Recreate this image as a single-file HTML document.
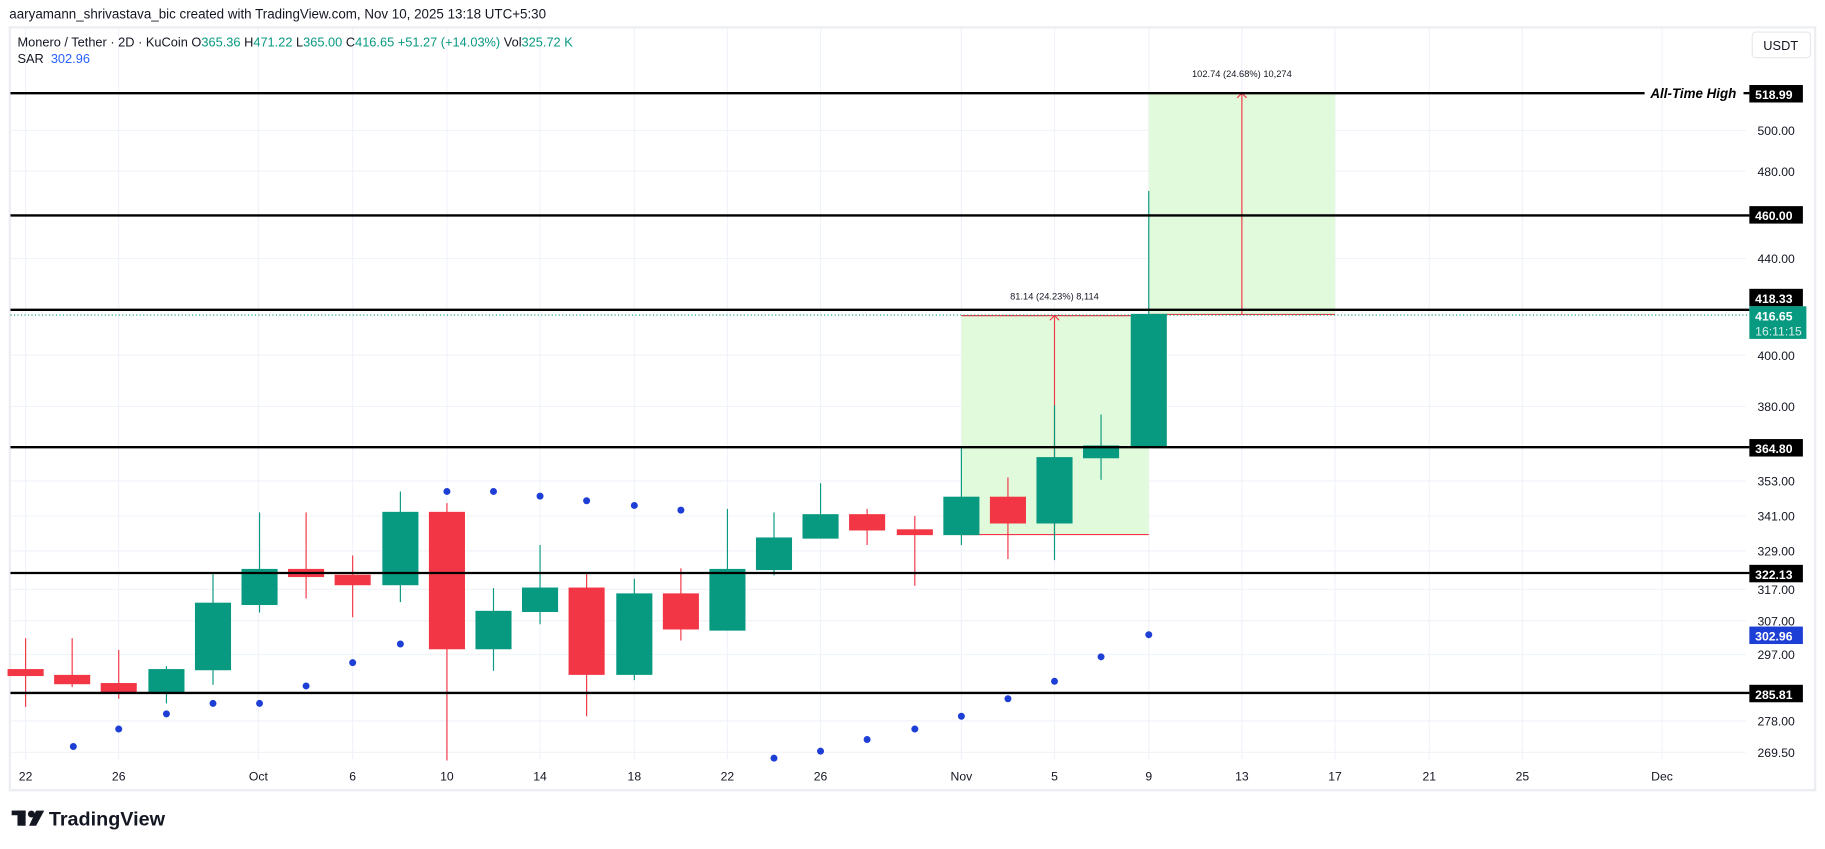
<!DOCTYPE html>
<html><head><meta charset="utf-8"><style>
html,body{margin:0;padding:0;background:#fff;}
svg{display:block;font-family:"Liberation Sans",sans-serif;}
</style></head><body>
<svg width="1825" height="849" viewBox="0 0 1568 729" preserveAspectRatio="none" xmlns="http://www.w3.org/2000/svg">
<rect width="1568" height="729" fill="#fff"/>
<text x="8" y="16" font-size="11.5" fill="#131722">aaryamann_shrivastava_bic created with TradingView.com, Nov 10, 2025 13:18 UTC+5:30</text>
<rect x="8.5" y="23.5" width="1551" height="655" fill="none" stroke="#eceef2" stroke-width="2"/>
<!-- grid -->
<g stroke="#f0f3fa" stroke-width="1">
<line x1="22" y1="24" x2="22" y2="652"/><line x1="102" y1="24" x2="102" y2="652"/><line x1="222" y1="24" x2="222" y2="652"/><line x1="303" y1="24" x2="303" y2="652"/><line x1="384" y1="24" x2="384" y2="652"/><line x1="464" y1="24" x2="464" y2="652"/><line x1="545" y1="24" x2="545" y2="652"/><line x1="625" y1="24" x2="625" y2="652"/><line x1="705" y1="24" x2="705" y2="652"/><line x1="826" y1="24" x2="826" y2="652"/><line x1="906" y1="24" x2="906" y2="652"/><line x1="987" y1="24" x2="987" y2="652"/><line x1="1067" y1="24" x2="1067" y2="652"/><line x1="1147" y1="24" x2="1147" y2="652"/><line x1="1228" y1="24" x2="1228" y2="652"/><line x1="1308" y1="24" x2="1308" y2="652"/><line x1="1428" y1="24" x2="1428" y2="652"/>
<line x1="9" y1="112" x2="1500" y2="112"/><line x1="9" y1="147" x2="1500" y2="147"/><line x1="9" y1="222" x2="1500" y2="222"/><line x1="9" y1="305" x2="1500" y2="305"/><line x1="9" y1="349" x2="1500" y2="349"/><line x1="9" y1="413" x2="1500" y2="413"/><line x1="9" y1="443" x2="1500" y2="443"/><line x1="9" y1="473" x2="1500" y2="473"/><line x1="9" y1="506" x2="1500" y2="506"/><line x1="9" y1="533" x2="1500" y2="533"/><line x1="9" y1="562" x2="1500" y2="562"/><line x1="9" y1="619" x2="1500" y2="619"/><line x1="9" y1="646" x2="1500" y2="646"/>
</g>
<text x="15" y="40" font-size="11" fill="#131722">Monero / Tether · 2D · KuCoin <tspan fill="#131722">O</tspan><tspan fill="#089981">365.36</tspan> H<tspan fill="#089981">471.22</tspan> L<tspan fill="#089981">365.00</tspan> C<tspan fill="#089981">416.65</tspan> <tspan fill="#089981">+51.27 (+14.03%)</tspan> Vol<tspan fill="#089981">325.72 K</tspan></text>
<text x="15" y="54" font-size="11" fill="#131722">SAR <tspan fill="#2962ff" dx="3">302.96</tspan></text>
<!-- USDT -->
<rect x="1505.5" y="27.5" width="50" height="22" rx="3" fill="#fff" stroke="#e6e8ec"/>
<text x="1515" y="43" font-size="11" fill="#131722">USDT</text>
<!-- range boxes -->
<rect x="826" y="271" width="161" height="188" fill="#e1fadb"/>
<rect x="987" y="80" width="160" height="190" fill="#e1fadb"/>
<g stroke="#f23645" stroke-width="1">
<line x1="826" y1="459" x2="987" y2="459"/><line x1="826" y1="271" x2="987" y2="271"/><line x1="906" y1="459" x2="906" y2="271"/>
<polyline points="902,275 906,271 910,275" fill="none"/>
<line x1="987" y1="270" x2="1147" y2="270"/><line x1="987" y1="80" x2="1147" y2="80"/><line x1="1067" y1="270" x2="1067" y2="80"/>
<polyline points="1063,84 1067,80 1071,84" fill="none"/>
</g>
<text x="906" y="257" font-size="8" fill="#131722" text-anchor="middle">81.14 (24.23%) 8,114</text>
<text x="1067" y="66" font-size="8" fill="#131722" text-anchor="middle">102.74 (24.68%) 10,274</text>
<!-- SAR dots -->
<g fill="#1e3fd6">
<circle cx="63" cy="641" r="3"/><circle cx="102" cy="626" r="3"/><circle cx="143" cy="613" r="3"/><circle cx="183" cy="604" r="3"/><circle cx="223" cy="604" r="3"/><circle cx="263" cy="589" r="3"/><circle cx="303" cy="569" r="3"/><circle cx="344" cy="553" r="3"/><circle cx="384" cy="422" r="3"/><circle cx="424" cy="422" r="3"/><circle cx="464" cy="426" r="3"/><circle cx="504" cy="430" r="3"/><circle cx="545" cy="434" r="3"/><circle cx="585" cy="438" r="3"/><circle cx="665" cy="651" r="3"/><circle cx="705" cy="645" r="3"/><circle cx="745" cy="635" r="3"/><circle cx="786" cy="626" r="3"/><circle cx="826" cy="615" r="3"/><circle cx="866" cy="600" r="3"/><circle cx="906" cy="585" r="3"/><circle cx="946" cy="564" r="3"/><circle cx="987" cy="545" r="3"/>
</g>
<!-- candles -->
<g stroke-width="1">
<g stroke="#f23645" fill="#f23645">
<line x1="22" y1="548" x2="22" y2="607"/><rect x="7" y="575" width="30" height="5"/>
<line x1="62" y1="548" x2="62" y2="590"/><rect x="47" y="580" width="30" height="7"/>
<line x1="102" y1="558" x2="102" y2="600"/><rect x="87" y="587" width="30" height="8"/>
<line x1="263" y1="440" x2="263" y2="514"/><rect x="248" y="489" width="30" height="6"/>
<line x1="303" y1="477" x2="303" y2="530"/><rect x="288" y="494" width="30" height="8"/>
<line x1="384" y1="432" x2="384" y2="653"/><rect x="369" y="440" width="30" height="117"/>
<line x1="504" y1="492" x2="504" y2="615"/><rect x="489" y="505" width="30" height="74"/>
<line x1="585" y1="488" x2="585" y2="550"/><rect x="570" y="510" width="30" height="30"/>
<line x1="745" y1="437" x2="745" y2="468"/><rect x="730" y="442" width="30" height="13"/>
<line x1="786" y1="443" x2="786" y2="503"/><rect x="771" y="455" width="30" height="4"/>
<line x1="866" y1="410" x2="866" y2="480"/><rect x="851" y="427" width="30" height="22"/>
</g>
<g stroke="#089981" fill="#089981">
<line x1="143" y1="572" x2="143" y2="604"/><rect x="128" y="575" width="30" height="20"/>
<line x1="183" y1="493" x2="183" y2="588"/><rect x="168" y="518" width="30" height="57"/>
<line x1="223" y1="440" x2="223" y2="526"/><rect x="208" y="489" width="30" height="30"/>
<line x1="344" y1="422" x2="344" y2="517"/><rect x="329" y="440" width="30" height="62"/>
<line x1="424" y1="505" x2="424" y2="576"/><rect x="409" y="525" width="30" height="32"/>
<line x1="464" y1="468" x2="464" y2="536"/><rect x="449" y="505" width="30" height="20"/>
<line x1="545" y1="497" x2="545" y2="584"/><rect x="530" y="510" width="30" height="69"/>
<line x1="625" y1="437" x2="625" y2="541"/><rect x="610" y="489" width="30" height="52"/>
<line x1="665" y1="440" x2="665" y2="494"/><rect x="650" y="462" width="30" height="27"/>
<line x1="705" y1="415" x2="705" y2="462"/><rect x="690" y="442" width="30" height="20"/>
<line x1="826" y1="385" x2="826" y2="468"/><rect x="811" y="427" width="30" height="32"/>
<line x1="906" y1="348" x2="906" y2="481"/><rect x="891" y="393" width="30" height="56"/>
<line x1="946" y1="356" x2="946" y2="412"/><rect x="931" y="383" width="30" height="10"/>
<line x1="987" y1="164" x2="987" y2="384"/><rect x="972" y="270" width="30" height="114"/>
</g>
</g>
<!-- horizontal levels -->
<g stroke="#000" stroke-width="2">
<line x1="9" y1="80" x2="1413" y2="80"/><line x1="1498" y1="80" x2="1503" y2="80"/>
<line x1="9" y1="185" x2="1503" y2="185"/>
<line x1="9" y1="266" x2="1503" y2="266"/>
<line x1="9" y1="384" x2="1503" y2="384"/>
<line x1="9" y1="492" x2="1503" y2="492"/>
<line x1="9" y1="595" x2="1503" y2="595"/>
</g>
<line x1="9" y1="270.5" x2="1503" y2="270.5" stroke="#089981" stroke-width="1" stroke-dasharray="1,2"/>
<text x="1418" y="84" font-size="11.5" font-weight="bold" font-style="italic" fill="#000">All-Time High</text>
<!-- axis labels -->
<g font-size="10.5" fill="#131722">
<text x="1510" y="116">500.00</text><text x="1510" y="151">480.00</text><text x="1510" y="226">440.00</text><text x="1510" y="309">400.00</text><text x="1510" y="353">380.00</text><text x="1510" y="417">353.00</text><text x="1510" y="447">341.00</text><text x="1510" y="477">329.00</text><text x="1510" y="510">317.00</text><text x="1510" y="537">307.00</text><text x="1510" y="566">297.00</text><text x="1510" y="623">278.00</text><text x="1510" y="650">269.50</text>
</g>
<g font-size="10.5" font-weight="bold" fill="#fff">
<rect x="1503" y="73" width="46" height="15" fill="#000"/><text x="1508" y="85">518.99</text>
<rect x="1503" y="177" width="46" height="15" fill="#000"/><text x="1508" y="189">460.00</text>
<rect x="1503" y="248" width="46" height="15" fill="#000"/><text x="1508" y="260">418.33</text>
<rect x="1503" y="263" width="49" height="28" fill="#089981"/><text x="1508" y="275">416.65</text><text x="1508" y="288" font-weight="normal" fill="#d8f0ea">16:11:15</text>
<rect x="1503" y="377" width="46" height="15" fill="#000"/><text x="1508" y="389">364.80</text>
<rect x="1503" y="485" width="46" height="15" fill="#000"/><text x="1508" y="497">322.13</text>
<rect x="1503" y="538" width="46" height="15" fill="#1e3fd6"/><text x="1508" y="550">302.96</text>
<rect x="1503" y="588" width="46" height="15" fill="#000"/><text x="1508" y="600">285.81</text>
</g>
<!-- x labels -->
<g font-size="10.5" fill="#131722" text-anchor="middle">
<text x="22" y="670">22</text><text x="102" y="670">26</text><text x="222" y="670">Oct</text><text x="303" y="670">6</text><text x="384" y="670">10</text><text x="464" y="670">14</text><text x="545" y="670">18</text><text x="625" y="670">22</text><text x="705" y="670">26</text><text x="826" y="670">Nov</text><text x="906" y="670">5</text><text x="987" y="670">9</text><text x="1067" y="670">13</text><text x="1147" y="670">17</text><text x="1228" y="670">21</text><text x="1308" y="670">25</text><text x="1428" y="670">Dec</text>
</g>
<!-- logo -->
<g fill="#131722">
<rect x="10" y="696" width="12" height="4"/><rect x="15" y="696" width="7" height="13"/>
<circle cx="27" cy="699" r="3"/><polygon points="31,696 38,696 31,709 25,709"/>
</g>
<text x="42" y="709" font-size="17" font-weight="bold" fill="#131722">TradingView</text>
</svg>
</body></html>
